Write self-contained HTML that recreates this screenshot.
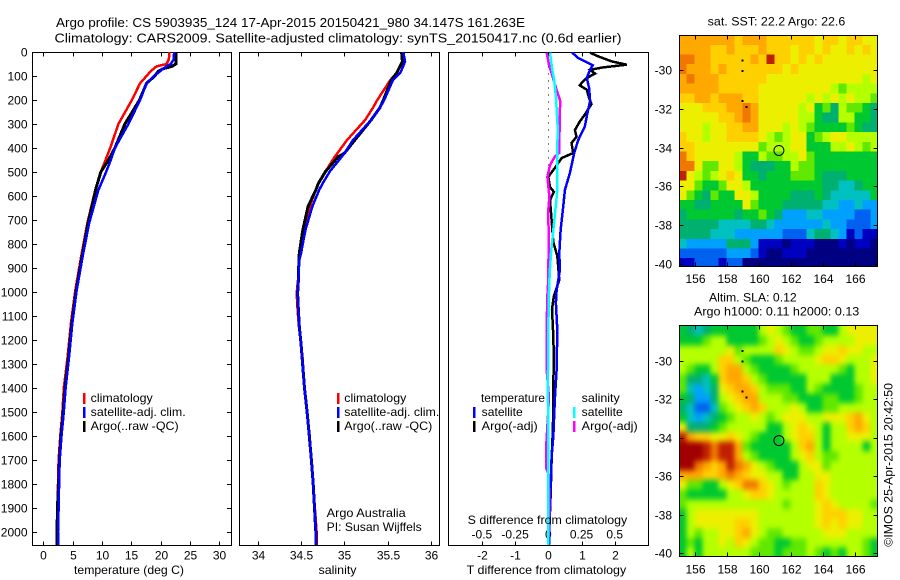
<!DOCTYPE html>
<html lang="en">
<head>
<meta charset="utf-8">
<title>Argo profile 5903935_124</title>
<style>
html,body{margin:0;padding:0;background:#fff;}
svg{display:block;}
text{font-family:"Liberation Sans",sans-serif;font-size:12px;fill:#000;}
.title{font-size:13px;}
</style>
</head>
<body>
<svg id="chart" width="900" height="580" viewBox="0 0 900 580" xmlns="http://www.w3.org/2000/svg">
<defs>
<clipPath id="sst-clip"><rect x="679.5" y="35.5" width="198" height="231"/></clipPath>
<clipPath id="sla-clip"><rect x="679.5" y="325.5" width="198" height="231"/></clipPath>
<filter id="sla-smooth" filterUnits="userSpaceOnUse" x="650" y="300" width="260" height="280" color-interpolation-filters="sRGB"><feGaussianBlur stdDeviation="2.4 2.8"/></filter>
</defs>
<rect x="0" y="0" width="900" height="580" fill="#fff"/>
<text class="title" x="56" y="27" textLength="469" lengthAdjust="spacingAndGlyphs">Argo profile: CS 5903935_124 17-Apr-2015 20150421_980 34.147S 161.263E</text>
<text class="title" x="54.5" y="42.5" textLength="567" lengthAdjust="spacingAndGlyphs">Climatology: CARS2009. Satellite-adjusted climatology: synTS_20150417.nc (0.6d earlier)</text>

<g id="temp-panel"></g>
<g id="sal-panel"></g>
<g id="diff-panel"></g>
<g id="sst-map"></g>
<g id="sla-map"></g>

<text x="74" y="574" textLength="110" lengthAdjust="spacingAndGlyphs">temperature (deg C)</text>
<text x="318.5" y="574" textLength="38" lengthAdjust="spacingAndGlyphs">salinity</text>
<text x="466.7" y="574" textLength="159.5" lengthAdjust="spacingAndGlyphs">T difference from climatology</text>
<text x="467.7" y="524" textLength="159.5" lengthAdjust="spacingAndGlyphs">S difference from climatology</text>

<g>
<rect x="83" y="393" width="2.5" height="11" fill="#f00"/>
<rect x="83" y="407" width="2.5" height="11" fill="#00f"/>
<rect x="83" y="421" width="2.5" height="11" fill="#000"/>
<text x="90.7" y="402" textLength="62" lengthAdjust="spacingAndGlyphs">climatology</text>
<text x="90.7" y="416" textLength="95" lengthAdjust="spacingAndGlyphs">satellite-adj. clim.</text>
<text x="90.7" y="430" textLength="88" lengthAdjust="spacingAndGlyphs">Argo(..raw -QC)</text>
</g>

<g>
<rect x="337" y="393" width="2.5" height="11" fill="#f00"/>
<rect x="337" y="407" width="2.5" height="11" fill="#00f"/>
<rect x="337" y="421" width="2.5" height="11" fill="#000"/>
<text x="344.3" y="402" textLength="62" lengthAdjust="spacingAndGlyphs">climatology</text>
<text x="344.3" y="416" textLength="95" lengthAdjust="spacingAndGlyphs">satellite-adj. clim.</text>
<text x="344.3" y="430" textLength="88" lengthAdjust="spacingAndGlyphs">Argo(..raw -QC)</text>
<text x="326.7" y="517" textLength="79" lengthAdjust="spacingAndGlyphs">Argo Australia</text>
<text x="326.7" y="531" textLength="95" lengthAdjust="spacingAndGlyphs">PI: Susan Wijffels</text>
</g>

<g>
<text x="481" y="402" textLength="64" lengthAdjust="spacingAndGlyphs">temperature</text>
<rect x="473" y="407" width="2.5" height="11" fill="#00f"/>
<rect x="473" y="421" width="2.5" height="11" fill="#000"/>
<text x="481.7" y="416" textLength="41" lengthAdjust="spacingAndGlyphs">satellite</text>
<text x="481.7" y="430" textLength="56" lengthAdjust="spacingAndGlyphs">Argo(-adj)</text>
<text x="581.7" y="402" textLength="38" lengthAdjust="spacingAndGlyphs">salinity</text>
<rect x="573" y="407" width="2.5" height="11" fill="#0ff"/>
<rect x="573" y="421" width="2.5" height="11" fill="#f0f"/>
<text x="581.7" y="416" textLength="41" lengthAdjust="spacingAndGlyphs">satellite</text>
<text x="581.7" y="430" textLength="56" lengthAdjust="spacingAndGlyphs">Argo(-adj)</text>
</g>

<text x="707.7" y="25.7" textLength="137.6" lengthAdjust="spacingAndGlyphs">sat. SST: 22.2 Argo: 22.6</text>
<text x="709" y="301.7" textLength="87.7" lengthAdjust="spacingAndGlyphs">Altim. SLA: 0.12</text>
<text x="694" y="315.7" textLength="165.3" lengthAdjust="spacingAndGlyphs">Argo h1000: 0.11 h2000: 0.13</text>
<text transform="translate(892.3 546.7) rotate(-90)" x="0" y="0" textLength="163.7" lengthAdjust="spacingAndGlyphs">©IMOS 25-Apr-2015 20:42:50</text>
</svg>

<script>
// ---- axis tick values ----
const depthTicks = [0,100,200,300,400,500,600,700,800,900,1000,1100,1200,1300,1400,1500,1600,1700,1800,1900,2000];
const tempTicks = [0,5,10,15,20,25,30];
const salTicks = [34,34.5,35,35.5,36];
const diffTTicks = [-2,-1,0,1,2];
const diffSTicks = [-0.5,-0.25,0,0.25,0.5];
const lonTicks = [156,158,160,162,164,166];
const latTicks = [-30,-32,-34,-36,-38,-40];

// ---- temperature profiles (deg C) ----
const tempDepths = [0,30,50,60,70,80,100,130,200,300,400,450,500,575,600,714,853,992,1131,1270,1400,1500,1600,1700,1800,1900,2000,2054];
const tempClim = [21.5,21.4,21.0,19.3,18.8,18.3,17.6,16.5,15.1,12.8,11.4,10.6,9.8,8.9,8.6,7.5,6.45,5.45,4.7,4.15,3.5,3.25,2.9,2.6,2.5,2.4,2.3,2.3];
const tempSat = [22.3,22.25,21.7,21.0,20.4,19.9,18.9,17.6,16.5,14.5,12.2,11.5,10.7,9.4,9.1,7.8,6.7,5.7,4.95,4.4,3.8,3.5,3.1,2.8,2.7,2.6,2.5,2.5];
const tempArgo = [22.6,22.6,22.6,21.9,20.4,19.6,19.0,17.6,16.4,13.9,12.2,11.1,9.8,8.9,8.7,7.6,6.6,5.6,4.85,4.3,3.7,3.4,3.0,2.75,2.6,2.4,2.35,2.3];

// ---- salinity profiles ----
const salDepths = [0,40,75,89,117,200,232,283,367,422,436,499,547,575,644,742,839,867,950,1006,1075,1144,1214,1283,1353,1400,1500,1600,1700,1800,1900,2000,2054];
const salClim = [35.67,35.68,35.62,35.60,35.53,35.38,35.33,35.24,35.03,34.92,34.89,34.78,34.70,34.67,34.60,34.52,34.48,34.475,34.465,34.45,34.46,34.475,34.50,34.52,34.53,34.54,34.57,34.60,34.62,34.64,34.66,34.68,34.68];
const salSat = [35.68,35.70,35.66,35.64,35.56,35.46,35.41,35.31,35.10,35.0,34.97,34.83,34.75,34.71,34.63,34.55,34.50,34.48,34.47,34.46,34.47,34.48,34.50,34.515,34.53,34.54,34.57,34.595,34.62,34.64,34.655,34.67,34.67];
const salArgo = [35.66,35.67,35.62,35.60,35.54,35.45,35.41,35.31,35.12,35.0,34.93,34.78,34.70,34.67,34.58,34.52,34.48,34.475,34.47,34.46,34.47,34.48,34.50,34.515,34.53,34.54,34.57,34.595,34.62,34.64,34.655,34.67,34.67];

// ---- difference-from-climatology profiles ----
const diffTSatDepths = [3,25,46,55,74,108,150,204,261,311,367,421,504,575,645,742,838,908,950,992,1046,1158,1325,1442,1603,1686,1811,1992,2054];
const diffTSat = [0.72,0.90,1.2,1.34,1.26,1.16,1.23,1.26,1.17,1.1,0.9,0.78,0.65,0.5,0.45,0.37,0.33,0.35,0.30,0.25,0.23,0.27,0.25,0.2,0.15,0.10,0.07,0.03,0.02];
const diffTArgoDepths = [3,18,39,53,64,74,90,108,129,139,157,192,217,261,290,325,353,379,421,442,483,520,562,583,617,700,792,850,950,1017,1072,1183,1292,1375,1500,1600,1700,1850,1992,2054];
const diffTArgo = [1.26,1.5,1.91,2.36,1.65,1.26,1.41,1.16,1.0,0.95,1.16,1.23,1.3,1.1,0.95,0.8,0.85,0.7,0.75,0.4,0.2,0.0,0.05,0.17,0.05,0.1,0.15,0.27,0.33,0.17,0.11,0.15,0.17,0.15,0.15,0.13,0.1,0.07,0.03,0.02];
const diffSSatDepths = [3,67,121,192,308,504,575,645,742,838,908,950,1033,1183,1380,1700,2054];
const diffSSat = [0.013,0.028,0.045,0.058,0.070,0.068,0.068,0.056,0.038,0.02,0.012,0.008,0.003,0,-0.003,0,0];
const diffSArgoDepths = [3,53,150,204,261,283,353,421,436,471,520,603,658,783,950,1028,1167,1325,1442,1658,1730,1761,1870,2054];
const diffSArgo = [-0.012,0.005,0.058,0.09,0.086,0.088,0.083,0.083,0.05,0.013,-0.007,0.008,0,0.003,0,-0.008,-0.012,-0.012,0.005,-0.017,-0.017,0.002,0.008,0];

// ---- map colour levels: index into mapPalette; rows north to south, columns west to east ----
const sstLevels = [
[11,11,11,11,11,11,11,10,11,11,11,10,10,10,10,10,10,9,10,10,9,10,10,9,9],
[11,11,11,11,10,10,11,10,10,10,11,10,10,10,9,10,10,9,10,9,9,10,9,10,9],
[12,12,11,11,10,10,10,10,10,11,10,13,10,10,9,10,9,10,9,9,9,9,9,9,9],
[12,11,11,11,10,11,10,10,10,10,10,10,10,9,10,9,9,9,9,9,9,9,9,9,9],
[11,12,11,11,11,10,10,10,10,10,10,9,9,9,9,9,9,9,9,9,9,9,9,8,9],
[11,11,11,11,11,10,10,10,10,10,9,9,9,9,9,9,9,9,9,8,7,8,8,8,8],
[10,10,11,11,10,11,11,11,10,10,9,9,9,9,9,9,8,9,8,9,8,9,8,8,7],
[9,9,9,10,10,10,11,11,12,11,9,9,9,9,9,8,9,6,7,5,8,7,7,6,5],
[9,9,9,9,9,10,10,11,12,11,9,9,9,9,9,8,8,6,5,5,8,8,6,6,5],
[9,9,9,8,9,9,10,10,11,11,9,9,9,8,9,8,7,6,6,6,6,7,6,5,5],
[10,9,9,8,9,9,10,10,10,10,9,8,7,8,9,9,6,7,8,9,9,8,8,8,8],
[10,10,9,9,9,9,9,9,9,9,7,8,8,8,9,9,6,6,6,8,8,9,8,7,8],
[12,10,9,9,9,9,9,8,6,6,8,7,7,8,8,9,7,6,6,6,6,6,6,6,6],
[12,12,9,7,7,9,9,8,6,5,5,5,6,6,8,7,7,6,6,6,6,6,6,6,6],
[13,9,8,7,8,9,10,9,6,6,5,6,6,6,7,7,7,6,5,5,5,6,6,6,6],
[9,9,7,6,6,7,9,9,8,6,6,6,6,6,6,6,6,6,5,5,4,4,5,6,6],
[9,7,6,5,7,6,6,9,9,8,6,6,6,6,5,5,5,6,5,4,4,4,4,4,6],
[6,6,5,5,6,6,6,6,9,7,6,6,6,5,5,5,5,5,4,4,3,3,4,3,3],
[5,6,6,6,6,6,6,5,6,6,7,6,5,3,3,3,4,4,3,3,3,3,2,2,3],
[5,5,5,5,5,4,4,4,4,5,5,4,3,3,3,3,3,3,4,3,3,2,2,2,3],
[5,5,5,5,4,4,4,3,3,3,3,3,3,2,2,2,4,5,5,4,3,1,2,1,1],
[4,3,3,3,3,3,5,5,5,3,1,1,1,0,1,1,1,0,0,0,1,0,1,1,0],
[2,2,2,2,2,2,3,3,3,2,1,0,0,1,1,1,0,0,0,0,0,0,0,0,0],
[1,1,2,2,2,1,2,2,0,0,0,0,0,0,0,0,0,0,0,0,0,0,0,0,0]
];
const slaLevels = [
[6,5,4,5,6,6,6,6,6,6,8,9,8,7,6,6,7,7,6,6,8,9,9,9,9],
[6,6,6,7,8,8,6,6,6,6,7,8,9,8,7,6,6,7,8,8,8,8,9,9,9],
[8,8,8,8,8,8,9,7,8,8,8,8,10,9,8,7,7,8,9,9,10,9,9,8,8],
[8,8,8,8,8,10,10,8,7,6,6,6,7,8,8,8,8,9,10,10,9,8,8,8,9],
[8,7,6,6,8,10,11,11,8,7,6,6,6,6,7,8,8,8,8,8,7,6,8,8,9],
[7,5,5,4,6,10,11,11,10,8,7,6,6,6,6,6,8,8,8,6,6,6,8,8,9],
[7,4,3,4,5,9,10,11,11,10,8,7,7,7,6,6,8,7,6,6,6,6,7,8,8],
[6,5,3,3,5,8,9,10,11,11,8,8,8,7,7,6,6,6,7,7,6,6,7,8,8],
[5,4,2,2,4,7,8,9,10,11,10,8,8,8,9,8,6,6,7,7,8,8,8,8,8],
[6,4,3,4,5,6,7,8,8,9,8,7,8,9,9,9,8,8,9,9,9,10,11,9,8],
[9,5,5,5,6,7,8,8,8,8,8,6,6,8,9,10,9,8,6,8,8,10,11,10,8],
[13,11,10,10,9,9,10,9,8,7,6,6,6,8,9,10,10,8,6,8,8,9,9,9,8],
[14,14,14,13,12,13,13,11,7,6,6,6,6,6,8,10,11,8,6,8,8,8,8,6,8],
[14,14,14,13,12,13,13,11,8,7,6,6,6,6,8,9,10,8,7,7,8,8,8,8,8],
[14,14,12,11,10,11,13,12,11,9,8,7,6,6,6,8,9,9,7,8,8,8,8,8,8],
[11,11,11,10,10,11,12,11,10,9,9,8,8,6,6,8,8,9,9,8,8,8,8,8,8],
[9,7,7,6,6,8,9,10,12,12,10,9,8,7,8,8,8,10,9,8,8,8,8,8,8],
[7,6,6,6,6,6,8,8,9,10,10,9,8,8,8,8,8,10,9,8,8,8,8,8,8],
[7,8,8,8,8,8,8,8,8,8,8,8,8,7,8,8,8,9,10,9,8,8,8,8,7],
[6,8,9,9,9,9,9,9,9,9,8,8,8,8,8,8,8,9,10,10,10,9,9,8,8],
[6,8,9,9,9,9,9,10,10,9,8,8,8,8,8,8,8,9,10,9,10,9,9,8,8],
[6,8,7,8,8,9,9,10,11,9,8,7,7,8,8,8,8,8,9,9,9,8,8,8,8],
[6,7,6,8,8,9,8,10,9,8,7,7,6,6,7,7,8,8,8,8,8,8,8,7,6],
[6,8,6,8,8,8,8,8,8,7,7,7,6,7,7,7,8,7,6,7,6,8,8,7,6]
];
const mapLonStart = 155;
const mapLatStart = -28.2;
const mapCellDeg = 0.5;
const profileLon = [161.263];
const profileLat = [-34.147];
const speckLons = [159,159,159,159.25];
const speckLats = [-29.5,-30.05,-31.6,-31.9];
const mapPalette = ['#000080','#0000c0','#0060f0','#00a0ff','#00c0c0','#00b070','#00c830','#60e800','#b4ff00','#ecf000','#ffd000','#ffa800','#f07800','#c02000','#a00000'];

// ---- helpers ----
const NS = 'http://www.w3.org/2000/svg';
function el(parent, tag, attrs) {
  const e = document.createElementNS(NS, tag);
  for (const k in attrs) e.setAttribute(k, attrs[k]);
  parent.appendChild(e);
  return e;
}
function tickLabel(parent, name, x, y, anchor, str) {
  const t = el(parent, 'text', {x: x, y: y, 'text-anchor': anchor});
  
  
  t.textContent = str;
}
function tickMark(parent, name, x1, y1, x2, y2) {
  const l = el(parent, 'line', {x1: x1, y1: y1, x2: x2, y2: y2, stroke: '#000', 'stroke-width': 1, 'shape-rendering': 'crispEdges'});
  
  
}
function frame(parent, x0, y0, x1, y1) {
  const r = el(parent, 'rect', {x: x0, y: y0, width: x1 - x0, height: y1 - y0, fill: 'none', stroke: '#000', 'stroke-width': 1, 'shape-rendering': 'crispEdges'});
  
  
}
function profile(parent, name, depths, values, xf, colour, width) {
  const pts = depths.map((d, i) => xf(values[i]).toFixed(1) + ',' + depthY(d).toFixed(1)).join(' ');
  const p = el(parent, 'polyline', {points: pts, fill: 'none', stroke: colour, 'stroke-width': width, 'stroke-linejoin': 'miter', 'shape-rendering': 'crispEdges'});
  
  
}

// ---- axis functions ----
const PTOP = 52.5, PBOT = 545.5;
function depthY(d) { return 52 + d * 0.24; }
function tempX(t) { return 43.3 + t * 5.867; }
function salX(s) { return 257.7 + (s - 34) * 86.67; }
function diffTX(t) { return 548.3 + t * 33.2; }
function diffSX(s) { return 548.3 + s * 132.8; }
function mapX(lon) { return 694.7 + (lon - 156) * 16; }
function sstY(lat) { return 70 + (-30 - lat) * 19.4; }
function slaY(lat) { return 360.7 + (-30 - lat) * 19.26; }

// ---- temperature panel ----
const gT = document.getElementById('temp-panel');
frame(gT, 32.5, PTOP, 231.5, PBOT);
depthTicks.forEach(d => {
  const y = Math.round(depthY(d)) + 0.5;
  tickMark(gT, 'depth-tick', 32.5, y, 37, y);
  tickMark(gT, 'depth-tick', 227, y, 231.5, y);
  tickLabel(gT, 'depth-tick-label', 27.5, y + 4, 'end', String(d));
});
tempTicks.forEach(t => {
  const x = Math.round(tempX(t)) + 0.5;
  tickMark(gT, 'temperature-tick', x, PTOP, x, PTOP + 4);
  tickMark(gT, 'temperature-tick', x, PBOT - 4, x, PBOT);
  tickLabel(gT, 'temperature-tick-label', x, 559.3, 'middle', String(t));
});
profile(gT, 'temperature-climatology-line', tempDepths, tempClim, tempX, '#f00', 2.5);
profile(gT, 'temperature-argo-line', tempDepths, tempArgo, tempX, '#000', 3);
profile(gT, 'temperature-satellite-line', tempDepths, tempSat, tempX, '#00f', 2.5);

// ---- salinity panel ----
const gS = document.getElementById('sal-panel');
frame(gS, 239.5, PTOP, 439.5, PBOT);
salTicks.forEach(s => {
  const x = Math.round(salX(s)) + 0.5;
  tickMark(gS, 'salinity-tick', x, PTOP, x, PTOP + 4);
  tickMark(gS, 'salinity-tick', x, PBOT - 4, x, PBOT);
  tickLabel(gS, 'salinity-tick-label', x, 559.3, 'middle', String(s));
});
profile(gS, 'salinity-climatology-line', salDepths, salClim, salX, '#f00', 2.5);
profile(gS, 'salinity-argo-line', salDepths, salArgo, salX, '#000', 3);
profile(gS, 'salinity-satellite-line', salDepths, salSat, salX, '#00f', 2.5);

// ---- difference panel ----
const gD = document.getElementById('diff-panel');
frame(gD, 448.5, PTOP, 648.5, PBOT);
const zeroLine = el(gD, 'line', {x1: diffTX(0), y1: PTOP, x2: diffTX(0), y2: PBOT, stroke: '#000', 'stroke-width': 1, 'stroke-dasharray': '1 6', 'shape-rendering': 'crispEdges'});


diffTTicks.forEach(t => {
  const x = Math.round(diffTX(t)) + 0.5;
  tickMark(gD, 't-difference-tick', x, PTOP, x, PTOP + 4);
  tickMark(gD, 't-difference-tick', x, PBOT - 4, x, PBOT);
  tickLabel(gD, 't-difference-tick-label', x, 559.3, 'middle', String(t));
});
diffSTicks.forEach(s => {
  tickLabel(gD, 's-difference-tick-label', diffSX(s), 538.3, 'middle', String(s));
});
profile(gD, 't-difference-argo-line', diffTArgoDepths, diffTArgo, diffTX, '#000', 2.5);
profile(gD, 't-difference-satellite-line', diffTSatDepths, diffTSat, diffTX, '#00f', 2.5);
profile(gD, 's-difference-argo-line', diffSArgoDepths, diffSArgo, diffSX, '#f0f', 2.5);
profile(gD, 's-difference-satellite-line', diffSSatDepths, diffSSat, diffSX, '#0ff', 2.5);

// ---- maps ----
function drawMap(groupId, clipId, filterId, levels, yf, x0, y0, x1, y1, labelBaseline) {
  const g = document.getElementById(groupId);
  const clipGroup = el(g, 'g', {'clip-path': 'url(#' + clipId + ')'});
  
  
  const cells = el(clipGroup, 'g', filterId ? {filter: 'url(#' + filterId + ')'} : {});
  
  
  const pad = 14;
  levels.forEach((row, r) => {
    row.forEach((v, c) => {
      let xa = mapX(mapLonStart + c * mapCellDeg), xb = mapX(mapLonStart + (c + 1) * mapCellDeg);
      let ya = yf(mapLatStart - r * mapCellDeg), yb = yf(mapLatStart - (r + 1) * mapCellDeg);
      if (c === 0) xa -= pad;
      if (c === row.length - 1) xb += pad;
      if (r === 0) ya -= pad;
      if (r === levels.length - 1) yb += pad;
      const cell = el(cells, 'rect', {x: xa.toFixed(2), y: ya.toFixed(2), width: (xb - xa + 0.4).toFixed(2), height: (yb - ya + 0.4).toFixed(2), fill: mapPalette[v], 'shape-rendering': 'crispEdges'});
      
      
    });
  });
  frame(g, x0, y0, x1, y1);
  lonTicks.forEach(lon => {
    const x = Math.round(mapX(lon)) + 0.5;
    tickMark(g, 'longitude-tick', x, y0, x, y0 + 4);
    tickMark(g, 'longitude-tick', x, y1 - 4, x, y1);
    tickLabel(g, 'longitude-tick-label', x, labelBaseline, 'middle', String(lon));
  });
  latTicks.forEach(lat => {
    const y = Math.round(yf(lat)) + 0.5;
    tickMark(g, 'latitude-tick', x0, y, x0 + 4, y);
    tickMark(g, 'latitude-tick', x1 - 4, y, x1, y);
    tickLabel(g, 'latitude-tick-label', 672, y + 4, 'end', String(lat));
  });
  speckLons.forEach((lon, i) => {
    const s = el(g, 'rect', {x: mapX(lon) - 1, y: yf(speckLats[i]) - 1, width: 2, height: 2, fill: '#000', 'shape-rendering': 'crispEdges'});
    
    
  });
  const m = el(g, 'circle', {cx: mapX(profileLon[0]), cy: yf(profileLat[0]), r: 5, fill: 'none', stroke: '#000', 'stroke-width': 1});
  
  
}
drawMap('sst-map', 'sst-clip', '', sstLevels, sstY, 679.5, 35.5, 877.5, 266.5, 283);
drawMap('sla-map', 'sla-clip', 'sla-smooth', slaLevels, slaY, 679.5, 325.5, 877.5, 556.5, 573.7);
</script>
</body>
</html>
